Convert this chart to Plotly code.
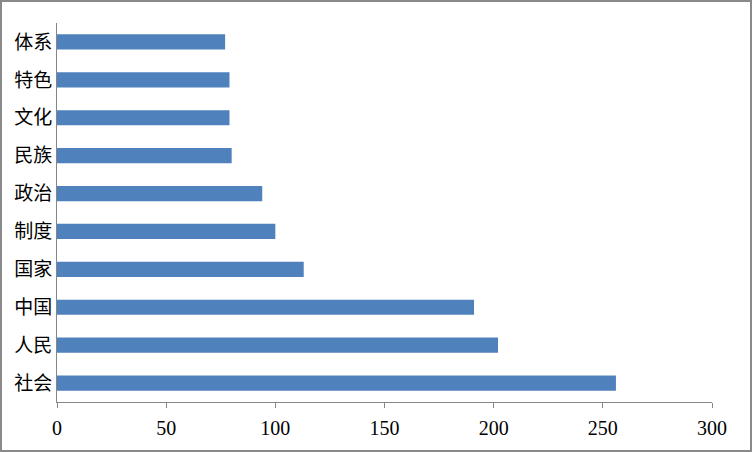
import plotly.graph_objects as go

categories = ["社会", "人民", "中国", "国家", "制度", "政治", "民族", "文化", "特色", "体系"]
values = [256, 202, 191, 113, 100, 94, 80, 79, 79, 77]
x_ticks = [0, 50, 100, 150, 200, 250, 300]

L, R, T, B = 57, 40, 23, 50
W, H = 752, 452
pw, ph = W - L - R, H - T - B


def px_x(px):
    return (px - L) / pw


def px_y(py):
    return (H - B - py) / ph


fig = go.Figure(go.Bar(
    y=categories, x=values, orientation="h",
    marker=dict(color="#4F81BD", line=dict(width=0)),
))

fig.update_layout(
    width=W, height=H,
    margin=dict(l=L, r=R, t=T, b=B, pad=0, autoexpand=False),
    paper_bgcolor="white", plot_bgcolor="white",
    bargap=0.6, showlegend=False,
    font=dict(family="Liberation Serif, Noto Sans CJK SC", size=19, color="black"),
    xaxis=dict(range=[0, 300], tickvals=x_ticks, showgrid=False, zeroline=False,
               showline=True, linecolor="#868686", linewidth=1,
               ticks="outside", ticklen=5, tickcolor="#868686", automargin=False,
               ticklabelstandoff=3,
               tickfont=dict(family="Liberation Serif", size=20)),
    yaxis=dict(categoryorder="array", categoryarray=categories, showgrid=False,
               showline=True, linecolor="#868686", linewidth=1, ticks="",
               ticklabelstandoff=0, automargin=False,
               tickfont=dict(family="Noto Sans CJK SC", size=19)),
    shapes=[dict(type="rect", xref="paper", yref="paper",
                 x0=px_x(1), x1=px_x(W - 1),
                 y0=px_y(H - 1), y1=px_y(1),
                 line=dict(color="#898989", width=2), fillcolor="rgba(0,0,0,0)")],
)

fig.write_html("out.html", config={"displayModeBar": False},
               post_script="document.body.style.margin='0';document.body.style.overflow='hidden';")
